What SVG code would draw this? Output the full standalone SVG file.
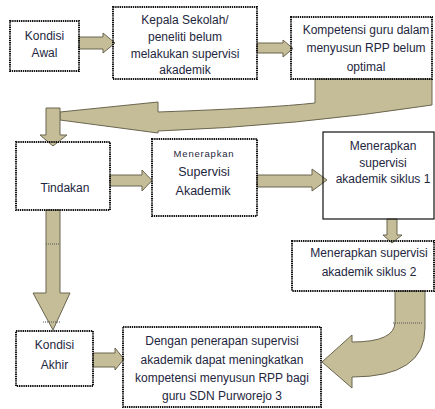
<svg xmlns="http://www.w3.org/2000/svg" width="435" height="409" viewBox="0 0 435 409">
<style>
.bg{fill:#ffffff}
.box{fill:none;stroke:#111;stroke-width:2;stroke-dasharray:1.4 0.8}
.solid{fill:none;stroke:#111;stroke-width:1.2}
.arr{fill:#c4bd97;stroke:#6b6550;stroke-width:1;stroke-linejoin:miter}
.dots{fill:none;stroke:#555;stroke-width:1;stroke-dasharray:1 1}
text{font-family:"Liberation Sans",Arial,sans-serif;font-size:12px;fill:#1e2640;text-anchor:middle}
.sm{font-size:9.5px;letter-spacing:0.8px}
.md{font-size:12.5px}
</style>
<rect class="bg" x="0" y="0" width="435" height="409"/>
<g id="connectors">
  <path class="arr" d="M79,37 L103,37 L103,33 L115,43 L103,53 L103,49 L79,49 Z"/>
  <path class="arr" d="M257,43 L283,43 L283,40 L293,48.5 L283,57 L283,53 L257,53 Z"/>
  <path class="arr" d="M315,79 L432,79 L432,105 Q295,126 158,131 L158,133 L60,120 L60,112 L158,102 L158,112 Q270,108 315,103 Z"/>
  <path class="arr" d="M46,108 L60,108 L60,135 L67,135 L53,146 L40,135 L46,135 Z"/>
  <path class="arr" d="M110,175 L142,175 L142,170 L152,180.5 L142,191 L142,186 L110,186 Z"/>
  <path class="arr" d="M257,175 L312,175 L312,169 L327,180 L312,191 L312,187 L257,187 Z"/>
  <path class="arr" d="M387,219 L397,219 L397,235 L402,235 L392,243 L383,235 L387,235 Z"/>
  <path class="arr" d="M46,210 L60,210 L60,293 L70,293 L53,330 L33,293 L46,293 Z"/>
  <path class="arr" d="M93,353 L115,353 L115,348 L124,359 L115,370 L115,367 L93,367 Z"/>
  <path class="arr" d="M395,291 L425,291 L425,328 Q425,377 352,377 L352,388 L322,362 L352,335 L352,342 Q395,342 395,322 Z"/>
  <path class="dots" d="M393,323 H423 M46,244 H60 M43,322 H60"/>
</g>
<g id="n-kondisi-awal">
  <rect class="box" x="10" y="21" width="69" height="50"/>
  <text x="44.5" y="39.5">Kondisi</text>
  <text x="44.5" y="57">Awal</text>
</g>
<g id="n-kepala-sekolah">
  <rect class="box" x="113" y="7" width="144" height="72"/>
  <text x="185" y="24">Kepala Sekolah/</text>
  <text x="185" y="41">peneliti belum</text>
  <text x="185" y="57.5">melakukan supervisi</text>
  <text x="185" y="74">akademik</text>
</g>
<g id="n-kompetensi">
  <rect class="box" x="291" y="17" width="141" height="62"/>
  <text x="366" y="34">Kompetensi guru dalam</text>
  <text x="366" y="52">menyusun RPP belum</text>
  <text x="366" y="71">optimal</text>
</g>
<g id="n-tindakan">
  <rect class="box" x="16" y="142" width="94" height="68"/>
  <text x="65" y="192">Tindakan</text>
</g>
<g id="n-menerapkan-supervisi">
  <rect class="box" x="152" y="139" width="105" height="77"/>
  <text class="sm" x="204" y="156.5">Menerapkan</text>
  <text class="md" x="204" y="176">Supervisi</text>
  <text class="md" x="203" y="194.5">Akademik</text>
</g>
<g id="n-siklus-1">
  <rect class="solid" x="323" y="132" width="111" height="87"/>
  <text x="383" y="150">Menerapkan</text>
  <text x="383" y="166.5">supervisi</text>
  <text x="383" y="183">akademik siklus 1</text>
</g>
<g id="n-siklus-2">
  <rect class="box" x="292" y="241" width="142" height="50"/>
  <text x="369" y="257">Menerapkan supervisi</text>
  <text x="369" y="276">akademik siklus 2</text>
</g>
<g id="n-kondisi-akhir">
  <rect class="box" x="16" y="331" width="77" height="55"/>
  <text x="54.5" y="349">Kondisi</text>
  <text x="54.5" y="369">Akhir</text>
</g>
<g id="n-kesimpulan">
  <rect class="box" x="123" y="327" width="198" height="80"/>
  <text x="222" y="345">Dengan penerapan supervisi</text>
  <text x="222" y="363.5">akademik dapat meningkatkan</text>
  <text x="222" y="381.5">kompetensi menyusun RPP bagi</text>
  <text x="222" y="400">guru SDN Purworejo 3</text>
</g>
</svg>
